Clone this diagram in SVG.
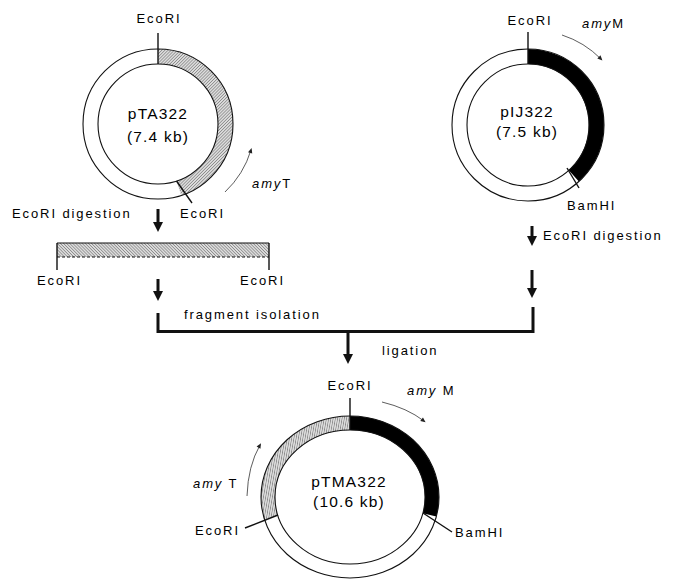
<svg xmlns="http://www.w3.org/2000/svg" width="679" height="580" viewBox="0 0 679 580">
<style>
text{font-family:"Liberation Sans",Arial,sans-serif;fill:#000;}
.lbl{font-size:13px;letter-spacing:1.9px;}
.name{font-size:15.5px;letter-spacing:1.2px;}
.it{font-style:italic;}
.ring{fill:none;stroke:#111;stroke-width:1.1;}
.tick{stroke:#111;stroke-width:1.4;fill:none;}
.thick{stroke:#111;stroke-width:3;fill:none;marker-end:url(#bighead);}
.bracket{stroke:#111;stroke-width:3;fill:none;}
.dir{stroke:#333;stroke-width:0.8;fill:none;marker-end:url(#smallhead);}
</style>
<defs>
<pattern id="hatchA" width="2.2" height="2.2" patternUnits="userSpaceOnUse" patternTransform="rotate(45)">
<rect width="2.2" height="2.2" fill="#dcdcdc"/>
<line x1="0" y1="0" x2="0" y2="2.2" stroke="#444" stroke-width="0.8"/>
</pattern>
<pattern id="hatchB" width="2.2" height="2.2" patternUnits="userSpaceOnUse" patternTransform="rotate(-45)">
<rect width="2.2" height="2.2" fill="#dcdcdc"/>
<line x1="0" y1="0" x2="0" y2="2.2" stroke="#444" stroke-width="0.8"/>
</pattern>
<pattern id="hatchC" width="2.2" height="2.2" patternUnits="userSpaceOnUse" patternTransform="rotate(10)">
<rect width="2.2" height="2.2" fill="#dcdcdc"/>
<line x1="0" y1="0" x2="0" y2="2.2" stroke="#444" stroke-width="0.8"/>
</pattern>
<marker id="bighead" viewBox="0 -5 10 10" markerUnits="userSpaceOnUse" markerWidth="10" markerHeight="10" refX="0" refY="0" orient="auto" overflow="visible">
<path d="M0,-5 L10,0 L0,5 Z" fill="#111"/>
</marker>
<marker id="smallhead" viewBox="0 -2.5 5 5" markerUnits="userSpaceOnUse" markerWidth="5" markerHeight="5" refX="3" refY="0" orient="auto" overflow="visible">
<path d="M0,-2.2 L5,0 L0,2.2 Z" fill="#222"/>
</marker>
</defs>

<g id="pTA322">
<path d="M158,49 A75,75 0 0 1 181.2,195.3 L176.5,181.1 A60,60 0 0 0 158,64 Z" fill="url(#hatchA)"/>
<circle class="ring" cx="158" cy="124" r="75"/>
<circle class="ring" cx="158" cy="124" r="60"/>
<line class="tick" x1="158" y1="33" x2="158" y2="64"/>
<line class="tick" x1="176.5" y1="181" x2="192" y2="203"/>
<text class="lbl" x="159" y="23" text-anchor="middle">EcoRI</text>
<text class="name" x="158" y="119" text-anchor="middle">pTA322</text>
<text class="name" x="158" y="142" text-anchor="middle">(7.4 kb)</text>
<path class="dir" d="M225,192 A96,96 0 0 0 251,150"/>
<text class="lbl" x="252" y="188"><tspan class="it">amy</tspan>T</text>
<text class="lbl" x="180" y="218">EcoRI</text>
</g>

<g id="pIJ322">
<path d="M528,49 A76,76 0 0 1 578.9,181.5 L568.8,170.3 A61,61 0 0 0 528,64 Z" fill="#000"/>
<circle class="ring" cx="528" cy="125" r="76"/>
<circle class="ring" cx="528" cy="125" r="61"/>
<line class="tick" x1="528" y1="32" x2="528" y2="64"/>
<line class="tick" x1="567" y1="168" x2="579" y2="188"/>
<text class="lbl" x="530" y="25" text-anchor="middle">EcoRI</text>
<text class="lbl" x="582" y="28"><tspan class="it">amy</tspan>M</text>
<path class="dir" d="M562,35 A97,97 0 0 1 601,59"/>
<text class="name" x="527" y="117" text-anchor="middle">pIJ322</text>
<text class="name" x="527" y="137" text-anchor="middle">(7.5 kb)</text>
<text class="lbl" x="567" y="210">BamHI</text>
</g>

<g id="fragment">
<rect x="57" y="243" width="212" height="14" fill="url(#hatchB)"/>
<line x1="57" y1="243" x2="269" y2="243" stroke="#111" stroke-width="1"/>
<line x1="57" y1="257" x2="269" y2="257" stroke="#111" stroke-width="1" stroke-dasharray="3,2"/>
<line class="tick" x1="57" y1="243" x2="57" y2="270"/>
<line class="tick" x1="269" y1="243" x2="269" y2="270"/>
<text class="lbl" x="37" y="285">EcoRI</text>
<text class="lbl" x="240" y="285">EcoRI</text>
</g>

<g id="labels">
<text class="lbl" x="12" y="218">EcoRI digestion</text>
<text class="lbl" x="543" y="240">EcoRI digestion</text>
<text class="lbl" x="184" y="319">fragment isolation</text>
<text class="lbl" x="382" y="355">ligation</text>
</g>

<g id="connectors">
<line class="thick" x1="158" y1="209" x2="158" y2="222"/>
<line class="thick" x1="158" y1="279" x2="158" y2="291"/>
<line class="thick" x1="532" y1="226" x2="532" y2="236"/>
<line class="thick" x1="532" y1="270" x2="532" y2="288"/>
<path class="bracket" d="M158,313 V331.5 H533 V307"/>
<line class="thick" x1="348" y1="332" x2="348" y2="354"/>
</g>

<g id="pTMA322">
<path d="M264.5,519.4 A89,81 0 0 1 350,416 L350,430 A75,67 0 0 0 277.9,515.5 Z" fill="url(#hatchC)"/>
<path d="M350,416 A89,81 0 0 1 436.3,516.6 L422.8,513.2 A75,67 0 0 0 350,430 Z" fill="#000"/>
<ellipse class="ring" cx="350" cy="497" rx="89" ry="81"/>
<ellipse class="ring" cx="350" cy="497" rx="75" ry="67"/>
<line class="tick" x1="350" y1="398" x2="350" y2="430"/>
<line class="tick" x1="278" y1="515" x2="245" y2="528"/>
<line class="tick" x1="423" y1="513" x2="452" y2="532"/>
<text class="lbl" x="350" y="390" text-anchor="middle">EcoRI</text>
<text class="lbl" x="407" y="395"><tspan class="it">amy</tspan> M</text>
<path class="dir" d="M382,402 Q407,408 424,421"/>
<text class="name" x="349" y="487" text-anchor="middle">pTMA322</text>
<text class="name" x="349" y="507" text-anchor="middle">(10.6 kb)</text>
<path class="dir" d="M247,496 Q248,466 260,445"/>
<text class="lbl" x="193" y="488"><tspan class="it">amy</tspan> T</text>
<text class="lbl" x="195" y="535">EcoRI</text>
<text class="lbl" x="455" y="537">BamHI</text>
</g>
</svg>
